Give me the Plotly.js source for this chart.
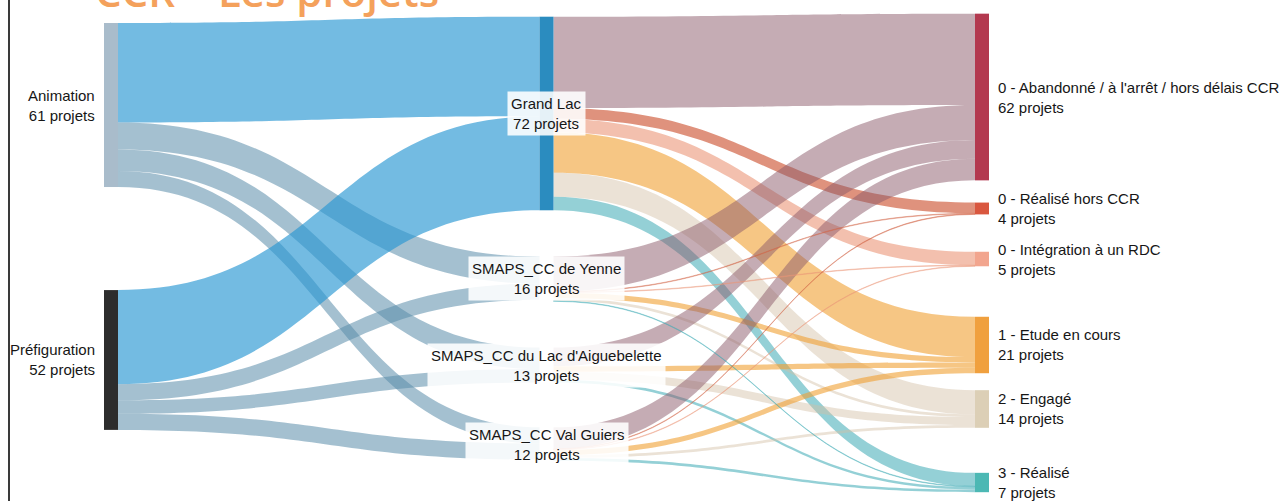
<!DOCTYPE html>
<html>
<head>
<meta charset="utf-8">
<script src="https://cdn.plot.ly/plotly-3.0.1.min.js"></script>
<style>
  html, body { margin: 0; padding: 0; background: #fff; }
  #wrap { position: relative; width: 1287px; height: 501px; overflow: hidden; }
  #chart { position: absolute; left: 0; top: 0; width: 1287px; height: 501px; }
  #frame { position: absolute; left: 8px; top: 0; width: 2px; height: 501px; background: #3a3a3a; }
</style>
</head>
<body>
<div id="wrap"><div id="chart"></div><div id="frame"></div></div>
<script>
// ---- data ----
const nodeNames = [
  'Animation', 'Préfiguration',
  'Grand Lac', 'SMAPS_CC de Yenne', "SMAPS_CC du Lac d'Aiguebelette", 'SMAPS_CC Val Guiers',
  "0 - Abandonné / à l'arrêt / hors délais CCR", '0 - Réalisé hors CCR', '0 - Intégration à un RDC',
  '1 - Etude en cours', '2 - Engagé', '3 - Réalisé'
];
const nodeCounts = [61, 52, 72, 16, 13, 12, 62, 4, 5, 21, 14, 7];
const linkSource = [0, 0, 0, 0, 1, 1, 1, 1,
                    2, 2, 2, 2, 2, 2,
                    3, 3, 3, 4, 4, 4, 4, 5, 5, 5, 5,
                    3, 3, 3, 5, 5];
const linkTarget = [2, 3, 4, 5, 2, 3, 4, 5,
                    6, 7, 8, 9, 10, 11,
                    6, 9, 10, 6, 9, 10, 11, 6, 9, 10, 11,
                    7, 8, 11, 7, 8];
const linkValue  = [37, 10, 8, 6, 35, 6, 5, 6,
                    34, 4, 5, 15, 9, 5,
                    13, 2, 1, 7, 2, 3, 1, 8, 2, 1, 1,
                    0.2, 0.2, 0.2, 0.2, 0.2];
const unitLabel = 'projets';
const titleText = 'CCR – Les projets';

// ---- layout / style (not data) ----
const nodeColX = [0.000001, 0.000001, 0.5, 0.5, 0.5, 0.5, 1, 1, 1, 1, 1, 1];
const nodeColY = [0.1921, 0.7244, 0.2098, 0.5553, 0.7349, 0.8998, 0.1754, 0.4081, 0.5136, 0.6931, 0.8267, 0.9802];
const nodeColors = ['#a9bccb', '#2d2d2d', '#2b8cbf', 'rgba(255,255,255,0)', 'rgba(255,255,255,0)', 'rgba(255,255,255,0)',
                    '#b3394f', '#d9573f', '#f2a58e', '#f0a03e', '#dccfb6', '#4cb8b4'];
const linkColorByTarget = ['', '', 'rgba(40,150,210,0.65)', 'rgba(90,140,170,0.55)', 'rgba(90,140,170,0.55)', 'rgba(90,140,170,0.55)',
                    'rgba(140,90,105,0.5)', 'rgba(210,100,70,0.7)', 'rgba(235,150,120,0.6)', 'rgba(240,160,50,0.6)',
                    'rgba(210,190,165,0.45)', 'rgba(60,170,180,0.55)'];
const column = [0, 0, 1, 1, 1, 1, 2, 2, 2, 2, 2, 2];
const FONT = '"Liberation Sans", Arial, sans-serif';

const trace = {
  type: 'sankey',
  arrangement: 'fixed',
  orientation: 'h',
  hoverinfo: 'none',
  textfont: { color: 'rgba(0,0,0,0)', size: 1, shadow: 'none' },
  node: {
    label: nodeNames,
    x: nodeColX,
    y: nodeColY,
    color: nodeColors,
    thickness: 14,
    pad: 34.5,
    line: { width: 0 },
    hoverinfo: 'none'
  },
  link: {
    source: linkSource,
    target: linkTarget,
    value: linkValue,
    color: linkTarget.map((t, i) => linkValue[i] < 1 ? linkColorByTarget[t].replace(/[\d.]+\)$/, '0.4)') : linkColorByTarget[t]),
    line: { width: 0 },
    hoverinfo: 'none'
  }
};

const annotations = nodeNames.map((name, i) => {
  const col = column[i];
  const a = {
    xref: 'paper', yref: 'paper',
    x: nodeColX[i], y: 1 - nodeColY[i],
    yanchor: 'middle',
    text: name + '<br>' + nodeCounts[i] + ' ' + unitLabel,
    showarrow: false,
    font: { family: FONT, size: 15, color: '#161616' }
  };
  if (col === 0) { a.xanchor = 'right'; a.align = 'right'; a.xshift = -14; }
  else if (col === 1) { a.xanchor = 'center'; a.align = 'center'; a.bgcolor = 'rgba(255,255,255,0.88)'; a.borderpad = 3; }
  else { a.xanchor = 'left'; a.align = 'left'; a.xshift = 14; }
  return a;
});
annotations.push({
  xref: 'paper', yref: 'paper', x: 0, y: 1, xanchor: 'left', yanchor: 'bottom',
  xshift: -18, yshift: -8, showarrow: false, text: titleText,
  font: { family: 'Open Sans, sans-serif', size: 42, color: '#f4a15c', weight: 600 }
});

const layout = {
  width: 1287, height: 501,
  margin: { l: 111, r: 305, t: 13, b: 9 },
  paper_bgcolor: '#ffffff',
  font: { family: FONT },
  annotations: annotations,
  showlegend: false
};

Plotly.newPlot('chart', [trace], layout, { staticPlot: true, displayModeBar: false });
</script>
</body>
</html>
